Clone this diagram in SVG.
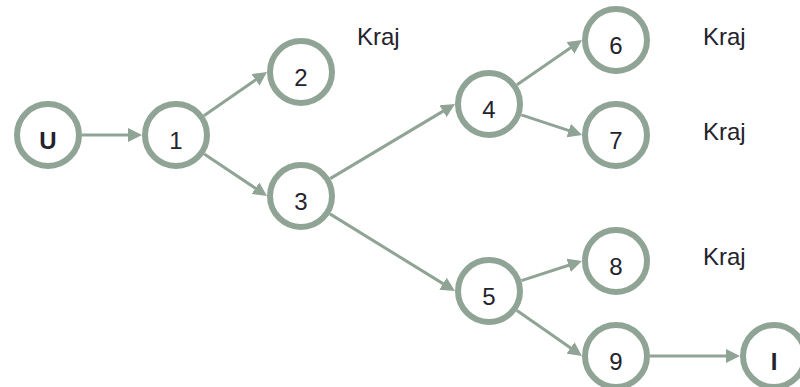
<svg xmlns="http://www.w3.org/2000/svg" width="800" height="387" viewBox="0 0 800 387">
  <style>
    .node circle { fill: #ffffff; stroke: #90a496; stroke-width: 6; }
    .node text { font-family: "Liberation Sans", Arial, sans-serif; font-size: 24px; fill: #23232d; text-anchor: middle; }
    .node text.bold { font-weight: bold; }
    .edge { stroke: #90a496; stroke-width: 3; fill: none; marker-end: url(#arrow); }
    .note { font-family: "Liberation Sans", Arial, sans-serif; font-size: 24px; fill: #23232d; }
  </style>
  <defs>
    <marker id="arrow" markerUnits="userSpaceOnUse" markerWidth="14" markerHeight="14" refX="9" refY="7" orient="auto">
      <path d="M0,0 L14,7 L0,14 z" fill="#90a496"/>
    </marker>
  </defs>
  <rect width="800" height="387" fill="#ffffff"/>

  <g id="connectors">
    <line class="edge" x1="82" y1="135" x2="137" y2="135"/>
    <line class="edge" x1="203.9" y1="115.7" x2="262.9" y2="74.8"/>
    <line class="edge" x1="204.2" y1="153.9" x2="262.9" y2="193.2"/>
    <line class="edge" x1="330.2" y1="178.6" x2="450.7" y2="106.6"/>
    <line class="edge" x1="329.9" y1="213.9" x2="450.7" y2="288.4"/>
    <line class="edge" x1="517.0" y1="84.7" x2="577.9" y2="42.8"/>
    <line class="edge" x1="521.3" y1="114.8" x2="577.3" y2="133.4"/>
    <line class="edge" x1="521.4" y1="280.6" x2="577.2" y2="262.5"/>
    <line class="edge" x1="516.9" y1="310.5" x2="577.9" y2="353.1"/>
    <line class="edge" x1="650" y1="356" x2="735" y2="356"/>
  </g>

  <g id="node-U" class="node"><circle cx="48" cy="135" r="31"/><text class="bold" x="48" y="148.5">U</text></g>
  <g id="node-1" class="node"><circle cx="176" cy="135" r="31"/><text x="176" y="148.5">1</text></g>
  <g id="node-2" class="node"><circle cx="301" cy="72" r="31"/><text x="301" y="85.5">2</text></g>
  <g id="node-3" class="node"><circle cx="301" cy="196" r="31"/><text x="301" y="209.5">3</text></g>
  <g id="node-4" class="node"><circle cx="489" cy="104" r="31"/><text x="489" y="117.5">4</text></g>
  <g id="node-5" class="node"><circle cx="489" cy="291" r="31"/><text x="489" y="304.5">5</text></g>
  <g id="node-6" class="node"><circle cx="616" cy="40" r="31"/><text x="616" y="53.5">6</text></g>
  <g id="node-7" class="node"><circle cx="616" cy="135" r="31"/><text x="616" y="148.5">7</text></g>
  <g id="node-8" class="node"><circle cx="616" cy="261" r="31"/><text x="616" y="274.5">8</text></g>
  <g id="node-9" class="node"><circle cx="616" cy="356" r="31"/><text x="616" y="369.5">9</text></g>
  <g id="node-I" class="node"><circle cx="774" cy="356" r="31"/><text class="bold" x="774" y="369.5">I</text></g>

  <g id="labels">
    <text class="note" x="357" y="45">Kraj</text>
    <text class="note" x="703" y="45">Kraj</text>
    <text class="note" x="703" y="140">Kraj</text>
    <text class="note" x="703" y="265">Kraj</text>
  </g>
</svg>
